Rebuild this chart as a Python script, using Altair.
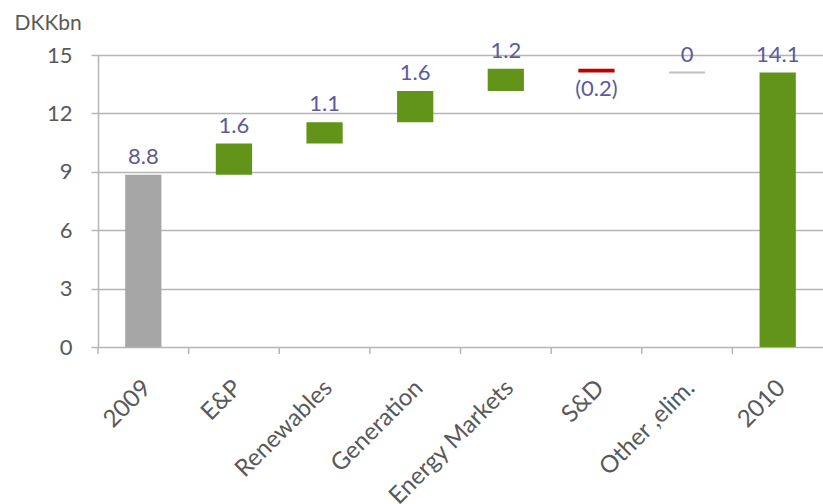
import altair as alt
import pandas as pd

categories = ["2009", "E&P", "Renewables", "Generation", "Energy Markets", "S&D", "Other ,elim.", "2010"]
deltas = [8.85, 1.6, 1.1, 1.6, 1.15, -0.2, 0.0, 0.0]
kinds = ["total", "up", "up", "up", "up", "down", "zero", "total"]
labels = ["8.8", "1.6", "1.1", "1.6", "1.2", "(0.2)", "0", "14.1"]
y_ticks = [0, 3, 6, 9, 12, 15]

rows = []
running = 0.0
for cat, d, k, lab in zip(categories, deltas, kinds, labels):
    if k == "total":
        if running == 0.0:
            start, end = 0.0, d
        else:
            start, end = 0.0, running
        running = end
    else:
        start, end = running, running + d
        running = end
    rows.append({"cat": cat, "start": start, "end": end, "kind": k, "label": lab,
                 "top": max(start, end), "bottom": min(start, end)})
df = pd.DataFrame(rows)

FONT = "Lato"
AXIS_COLOR = "#595959"
LABEL_COLOR = "#5B5B9C"
GRID_COLOR = "#B5B5B5"

x_enc = alt.X("cat:N", sort=categories, scale=alt.Scale(paddingInner=0, paddingOuter=0),
              axis=alt.Axis(title=None, labelAngle=-45, labelAlign="right", labelBaseline="middle",
                            ticks=False, domain=False, labelPadding=37, labelOffset=4,
                            labelFontSize=24, labelColor=AXIS_COLOR, labelFont=FONT))

y_scale = alt.Scale(domain=[0, 15], nice=False)

base = alt.Chart(df)

bars = base.transform_filter(alt.datum.kind != "zero").mark_bar(width={"band": 0.4}).encode(
    x=x_enc,
    y=alt.Y("start:Q", scale=y_scale,
            axis=alt.Axis(values=y_ticks, title="DKKbn", titleAngle=0, titleX=-84, titleY=-26,
                          titleAlign="left", titleBaseline="alphabetic", titleFontSize=21,
                          titleFontWeight="normal", titleColor=AXIS_COLOR, titleFont=FONT,
                          labelFontSize=22, labelColor=AXIS_COLOR, labelFont=FONT, labelPadding=19,
                          tickSize=7, tickColor=GRID_COLOR, tickWidth=1.5,
                          domainColor=GRID_COLOR, domainWidth=1.5,
                          grid=True, gridColor=GRID_COLOR, gridWidth=1.5)),
    y2="end:Q",
    color=alt.condition(alt.datum.cat == "2009", alt.value("#A6A6A6"),
                        alt.Color("kind:N", scale=alt.Scale(domain=["total", "up", "down"],
                                                            range=["#62941A", "#62941A", "#C00000"]),
                                  legend=None)),
)

zero_line = base.transform_filter(alt.datum.kind == "zero").mark_tick(
    thickness=2, size=36, color="#A6A6A6").encode(
    x=alt.X("cat:N", sort=categories), y=alt.Y("end:Q", scale=y_scale))

text_up = base.transform_filter(alt.datum.kind != "down").mark_text(
    baseline="bottom", dy=-6, fontSize=22, color=LABEL_COLOR, font=FONT).encode(
    x=alt.X("cat:N", sort=categories), y=alt.Y("top:Q", scale=y_scale), text="label:N")

text_down = base.transform_filter(alt.datum.kind == "down").mark_text(
    baseline="top", dy=6, fontSize=22, color=LABEL_COLOR, font=FONT).encode(
    x=alt.X("cat:N", sort=categories), y=alt.Y("bottom:Q", scale=y_scale), text="label:N")

x_ticks = base.mark_rule(color=GRID_COLOR, strokeWidth=1.5).encode(
    x=alt.X("cat:N", sort=categories, bandPosition=0),
    y=alt.value(292), y2=alt.value(299))

chart = alt.layer(bars, zero_line, text_up, text_down, x_ticks).properties(
    width=725, height=292,
    padding={"left": 98, "top": 55, "right": 0, "bottom": 157},
    autosize=alt.AutoSizeParams(type="none"),
).configure_view(stroke=None).configure(font=FONT)

chart.save("out.html", embed_options={"renderer": "svg", "actions": False})
